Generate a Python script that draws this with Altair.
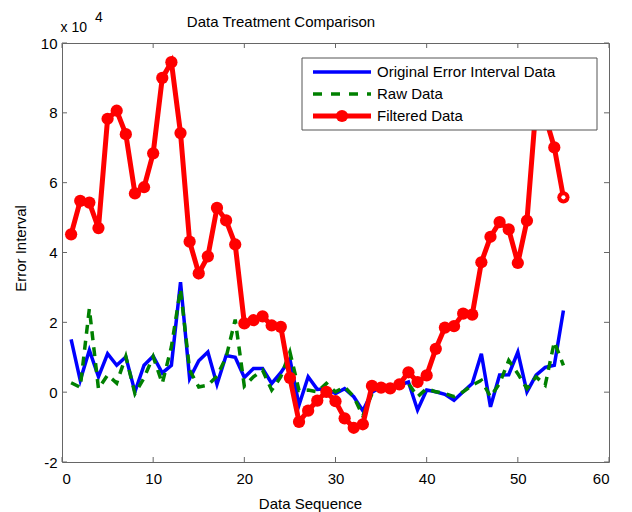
import altair as alt
import pandas as pd

# ---------------- data ----------------
seq = list(range(1, 56))

original = [1.51, 0.34, 1.20, 0.44, 1.10, 0.77, 1.01, 0.01, 0.77, 1.03,
            0.55, 0.77, 3.15, 0.39, 0.90, 1.15, 0.22, 1.05, 1.00, 0.42,
            0.68, 0.68, 0.25, 0.56, 0.95, -0.37, 0.44, 0.08, 0.10, -0.04,
            0.10, -0.13, -0.53, 0.00, 0.15, 0.18, 0.20, 0.29, -0.51, 0.06,
            0.01, -0.06, -0.23, 0.01, 0.25, 1.10, -0.42, 0.49, 0.50, 1.15,
            0.01, 0.49, 0.71, 0.77, 2.34]

raw = [0.27, 0.14, 2.39, 0.10, 0.49, 0.26, 1.02, -0.04, 0.41, 1.02,
       0.25, 1.30, 2.95, 0.63, 0.15, 0.20, 0.46, 1.00, 2.08, 0.17,
       0.44, 0.63, 0.06, 0.44, 1.15, 0.05, 0.06, 0.01, 0.25, 0.01,
       0.15, -0.13, -0.68, -0.05, 0.10, 0.15, 0.15, 0.25, -0.13, 0.10,
       0.01, -0.04, -0.13, 0.01, 0.20, 0.34, -0.13, 0.25, 0.91, 0.53,
       0.10, 0.44, 0.20, 1.44, 0.77]

filtered = [4.52, 5.48, 5.43, 4.70, 7.83, 8.06, 7.39, 5.69, 5.87, 6.84,
            9.00, 9.45, 7.42, 4.31, 3.40, 3.89, 5.28, 4.92, 4.23, 1.97,
            2.06, 2.17, 1.91, 1.87, 0.41, -0.85, -0.53, -0.24, 0.01, -0.26,
            -0.75, -1.02, -0.92, 0.18, 0.13, 0.11, 0.22, 0.57, 0.29, 0.48,
            1.24, 1.85, 1.89, 2.25, 2.22, 3.72, 4.45, 4.87, 4.66, 3.70,
            4.91, 8.20, 7.90, 7.01, 5.58]

series_names = ["Original Error Interval Data", "Raw Data", "Filtered Data"]
x_ticks = [0, 10, 20, 30, 40, 50, 60]
y_ticks = [-2, 0, 2, 4, 6, 8, 10]
chart_title = "Data Treatment Comparison"
x_title = "Data Sequence"
y_title = "Error Interval"

# ---------------- chart ----------------
df = pd.DataFrame({"seq": seq, "original": original, "raw": raw, "filtered": filtered})

W, H = 547, 419
FONT = "Liberation Sans"
FRAME = "#666666"
BLUE, GREEN, RED = "#0000ff", "#008000", "#ff0000"

xs = alt.Scale(domain=[0, 60], nice=False, zero=False)
ys = alt.Scale(domain=[-2, 10], nice=False, zero=False)

x_axis = alt.Axis(values=x_ticks, title=x_title, labelPadding=9, titleX=248, titleY=41,
                  titleAlign="center", titleBaseline="middle")
y_axis = alt.Axis(values=y_ticks, title=y_title, labelPadding=5, labelExpr="'' + datum.value",
                  titleX=-42, titleY=205, titleAngle=270, titleAlign="center",
                  titleBaseline="middle")


def X(field):
    return alt.X(field, scale=xs, axis=x_axis)


def Y(field):
    return alt.Y(field, scale=ys, axis=y_axis)


base = alt.Chart(df)

blue = base.mark_line(color=BLUE, strokeWidth=3.5).encode(x=X("seq:Q"), y=Y("original:Q"))
green = base.mark_line(color=GREEN, strokeWidth=3.5, strokeDash=[9, 7]).encode(
    x=X("seq:Q"), y=Y("raw:Q"))
red_line = base.mark_line(color=RED, strokeWidth=5).encode(x=X("seq:Q"), y=Y("filtered:Q"))
red_pts = base.mark_point(filled=True, shape="circle", size=150, color=RED, opacity=1).encode(
    x=X("seq:Q"), y=Y("filtered:Q"))
last_pt = base.transform_filter("datum.seq == 55").mark_point(
    filled=True, shape="circle", size=18, color="white", opacity=1).encode(
    x=X("seq:Q"), y=Y("filtered:Q"))

# inside ticks on all four sides
xt = alt.Chart(pd.DataFrame({"seq": x_ticks}))
yt = alt.Chart(pd.DataFrame({"original": y_ticks}))
tick_b = xt.mark_rule(color=FRAME, strokeWidth=1).encode(
    x=X("seq:Q"), y=alt.value(H), y2=alt.value(H - 5))
tick_t = xt.mark_rule(color=FRAME, strokeWidth=1).encode(
    x=X("seq:Q"), y=alt.value(0), y2=alt.value(5))
tick_l = yt.mark_rule(color=FRAME, strokeWidth=1).encode(
    y=Y("original:Q"), x=alt.value(0), x2=alt.value(5))
tick_r = yt.mark_rule(color=FRAME, strokeWidth=1).encode(
    y=Y("original:Q"), x=alt.value(W), x2=alt.value(W - 5))

# legend (drawn by hand, MATLAB style)
one = pd.DataFrame({"k": [0]})
lg_box = alt.Chart(one).mark_rect(fill="white", stroke="#555555", strokeWidth=1).encode(
    x=alt.value(240), x2=alt.value(535), y=alt.value(15), y2=alt.value(87))
lg_rows = [29, 51, 73]
lg_layers = [lg_box]
lg_layers.append(alt.Chart(one).mark_rule(color=BLUE, strokeWidth=3.5).encode(
    x=alt.value(251), x2=alt.value(309), y=alt.value(lg_rows[0])))
lg_layers.append(alt.Chart(one).mark_rule(color=GREEN, strokeWidth=3.5, strokeDash=[9, 9]).encode(
    x=alt.value(251), x2=alt.value(309), y=alt.value(lg_rows[1])))
lg_layers.append(alt.Chart(one).mark_rule(color=RED, strokeWidth=5).encode(
    x=alt.value(251), x2=alt.value(309), y=alt.value(lg_rows[2])))
lg_layers.append(alt.Chart(one).mark_point(filled=True, shape="circle", size=150, color=RED, opacity=1).encode(
    x=alt.value(280), y=alt.value(lg_rows[2])))
for name, yy in zip(series_names, lg_rows):
    lg_layers.append(alt.Chart(pd.DataFrame({"name": [name]})).mark_text(
        align="left", baseline="middle", font=FONT, fontSize=15, color="black").encode(
        text="name:N", x=alt.value(315), y=alt.value(yy)))

# title and exponent note
title_txt = alt.Chart(pd.DataFrame({"t": [chart_title]})).mark_text(
    align="center", baseline="middle", font=FONT, fontSize=15, color="black").encode(
    text="t:N", x=alt.value(219), y=alt.value(-21))
exp_a = alt.Chart(pd.DataFrame({"t": ["x 10"]})).mark_text(
    align="left", baseline="alphabetic", font=FONT, fontSize=14, color="black").encode(
    text="t:N", x=alt.value(-1.5), y=alt.value(-11))
exp_b = alt.Chart(pd.DataFrame({"t": ["4"]})).mark_text(
    align="left", baseline="alphabetic", font=FONT, fontSize=14, color="black").encode(
    text="t:N", x=alt.value(33), y=alt.value(-21))

chart = alt.layer(
    blue, green, red_line, red_pts, last_pt,
    tick_b, tick_t, tick_l, tick_r,
    *lg_layers, title_txt, exp_a, exp_b,
).properties(
    width=W, height=H,
    padding={"left": 54, "top": 35, "right": 15, "bottom": 52},
    autosize=alt.AutoSizeParams(type="none"),
).configure_view(
    stroke=FRAME, strokeWidth=1,
).configure_axis(
    domain=False, ticks=False, grid=False,
    labelFont=FONT, labelFontSize=15, labelColor="black",
    titleFont=FONT, titleFontSize=15, titleFontWeight="normal", titleColor="black",
)

chart.save("out.html", embed_options={"renderer": "svg", "actions": False})
